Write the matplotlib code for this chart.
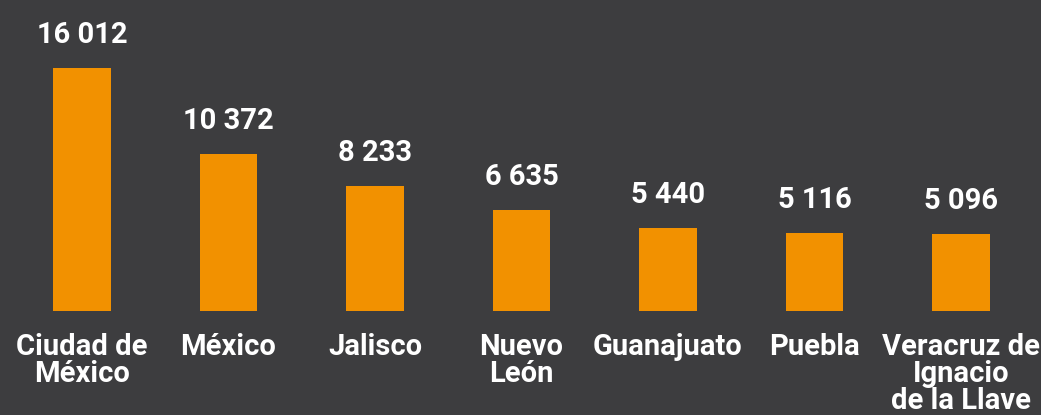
import matplotlib
matplotlib.use('Agg')
import matplotlib.pyplot as plt

# states and values
states = ["Ciudad de\nMéxico", "México", "Jalisco", "Nuevo\nLeón",
          "Guanajuato", "Puebla", "Veracruz de\nIgnacio\nde la Llave"]
values = [16012, 10372, 8233, 6635, 5440, 5116, 5096]

bg = '#3d3d3f'
orange = '#f29100'

plt.rcParams['font.family'] = ['Roboto', 'DejaVu Sans']
plt.rcParams['font.weight'] = 'bold'

fig = plt.figure(figsize=(10.41, 4.15), dpi=100, facecolor=bg)
ax = fig.add_axes([0, 104 / 415, 1, 311 / 415], facecolor=bg)

x = list(range(len(values)))
ax.bar(x, values, width=0.39, color=orange)

for xi, v in zip(x, values):
    ax.annotate(f"{v:,}".replace(",", " "), (xi, v), xytext=(0, 18),
                textcoords='offset points', ha='center', va='baseline',
                color='white', fontsize=21, fontweight='bold')

ax.set_xlim(-82 / 146.5, (1041 - 82) / 146.5)
ax.set_ylim(0, 311 / 0.01518)
ax.set_xticks(x)
ax.set_xticklabels(states, color='white', fontsize=21, fontweight='bold',
                   linespacing=0.97)
ax.tick_params(axis='x', length=0, pad=15.5)
ax.set_yticks([])
for s in ax.spines.values():
    s.set_visible(False)

fig.savefig('out.png', dpi=100, facecolor=bg)
